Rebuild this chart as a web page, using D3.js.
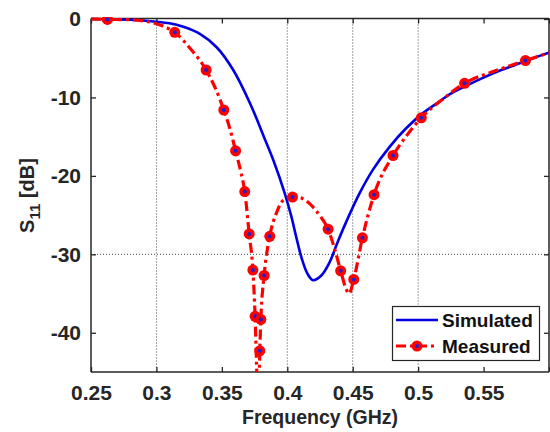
<!DOCTYPE html>
<html><head><meta charset="utf-8">
<script src="https://cdn.jsdelivr.net/npm/d3@7"></script>
<style>body{margin:0;background:#fff;}svg{display:block;font-family:Arial,"Liberation Sans",sans-serif;}</style>
</head><body><svg id="c" width="550" height="432"></svg>
<script>
// ---- data ----
const xTicks = [0.25, 0.3, 0.35, 0.4, 0.45, 0.5, 0.55, 0.6];
const xTickLabels = ["0.25", "0.3", "0.35", "0.4", "0.45", "0.5", "0.55", ""];
const yTicks = [0, -10, -20, -30, -40];
const yTickLabels = ["0", "-10", "-20", "-30", "-40"];
const xGrid = [0.3, 0.4, 0.45, 0.5];
const yGrid = [-30];

const simFreq = [0.25, 0.28, 0.30, 0.31, 0.3205, 0.3332, 0.346, 0.3587, 0.3714, 0.3828, 0.390, 0.398, 0.403, 0.407, 0.411, 0.4155, 0.4197, 0.426, 0.4324, 0.4376, 0.4452, 0.4553, 0.4655, 0.4782, 0.491, 0.5037, 0.5164, 0.524, 0.537, 0.5495, 0.562, 0.575, 0.587, 0.600];
const simDb   = [0, -0.1, -0.35, -0.55, -1.0, -1.9, -3.6, -6.5, -10.7, -15.3, -18.3, -22.2, -25.1, -27.9, -30.5, -32.5, -33.3, -32.7, -31.0, -28.8, -25.8, -22.2, -19.2, -16.3, -13.9, -12.0, -10.5, -9.6, -8.5, -7.5, -6.6, -5.8, -5.05, -4.3];

const measFreq = [0.25, 0.2625, 0.28, 0.295, 0.305, 0.314, 0.326, 0.338, 0.3455, 0.3515, 0.3565, 0.3605, 0.3645, 0.3675, 0.3709, 0.3737, 0.3754, 0.3765, 0.3772, 0.3782, 0.379, 0.3798, 0.3823, 0.3866, 0.392, 0.397, 0.404, 0.410, 0.4175, 0.425, 0.4312, 0.436, 0.4408, 0.4445, 0.4472, 0.4508, 0.4574, 0.4663, 0.4808, 0.4915, 0.5024, 0.519, 0.5355, 0.559, 0.582, 0.600];
const measDb   = [0, -0.05, -0.1, -0.4, -0.9, -1.7, -3.8, -6.5, -9.0, -11.6, -14.2, -16.8, -19.5, -22.0, -27.4, -32.0, -37.9, -44, -48, -48, -42.3, -38.3, -32.7, -27.7, -24.6, -23.1, -22.7, -22.8, -23.6, -25.1, -26.8, -29.2, -32.1, -34.2, -35.0, -33.2, -27.9, -22.4, -17.4, -14.8, -12.6, -10.2, -8.2, -6.6, -5.3, -4.3];

const markFreq = [0.2625, 0.314, 0.338, 0.3515, 0.3605, 0.3675, 0.3709, 0.3737, 0.3754, 0.379, 0.3798, 0.3823, 0.3866, 0.404, 0.4312, 0.4408, 0.4508, 0.4574, 0.4663, 0.4808, 0.5024, 0.5355, 0.582];
const markDb   = [-0.05, -1.7, -6.5, -11.6, -16.8, -22.0, -27.4, -32.0, -37.9, -42.3, -38.3, -32.7, -27.7, -22.7, -26.8, -32.1, -33.2, -27.9, -22.4, -17.4, -12.6, -8.2, -5.3];

const seriesNames = ["Simulated", "Measured"];

// ---- layout ----
const L = 91, R = 549, T = 19, B = 372;
const ink = "#262626";
const blue = "#0000e0", red = "#ff0000", dotBlue = "#2020d0";
const svg = d3.select("#c");
const x = d3.scaleLinear().domain([0.25, 0.6]).range([L, R]);
const y = d3.scaleLinear().domain([-45, 0]).range([B, T]);

svg.append("defs").append("clipPath").attr("id", "clip")
  .append("rect").attr("x", L).attr("y", T - 2).attr("width", R - L).attr("height", B - T + 2);

// grid
const g = svg.append("g");
g.selectAll(".vg").data(xGrid).enter().append("line")
  .attr("x1", d => x(d)).attr("x2", d => x(d)).attr("y1", T - 0.5).attr("y2", B)
  .attr("stroke", "#444").attr("stroke-width", 1).attr("stroke-dasharray", "1,2");
g.selectAll(".hg").data(yGrid).enter().append("line")
  .attr("y1", d => y(d)).attr("y2", d => y(d)).attr("x1", L).attr("x2", R)
  .attr("stroke", "#444").attr("stroke-width", 1).attr("stroke-dasharray", "1,2");

// axes
const ax = svg.append("g").attr("transform", `translate(0,${B})`)
  .call(d3.axisBottom(x).tickValues(xTicks).tickSize(-5).tickPadding(13).tickFormat((d, i) => xTickLabels[i]));
const axT = svg.append("g").attr("transform", `translate(0,${T - 0.5})`)
  .call(d3.axisTop(x).tickValues(xTicks).tickSize(-5).tickFormat(""));
const ay = svg.append("g").attr("transform", `translate(${L},0)`)
  .call(d3.axisLeft(y).tickValues(yTicks).tickSize(-5).tickPadding(10).tickFormat((d, i) => yTickLabels[i]));
const ayR = svg.append("g").attr("transform", `translate(${R},0)`)
  .call(d3.axisRight(y).tickValues(yTicks).tickSize(-5).tickFormat(""));
[ax, axT, ay, ayR].forEach(a => {
  a.select(".domain").attr("stroke", ink).attr("stroke-width", 1.5);
  a.selectAll(".tick line").attr("stroke", ink).attr("stroke-width", 1.3);
  a.selectAll(".tick text").attr("fill", ink).style("font-size", "21px").style("font-weight", "bold")
   .style("font-family", "Arial, 'Liberation Sans', sans-serif");
});
ay.select(".domain").attr("d", `M0,${T - 0.5}V${B}`);
ayR.select(".domain").attr("d", `M0,${T - 0.5}V${B}`);
ax.select(".domain").attr("d", `M${L},0H${R}`);
axT.select(".domain").attr("d", `M${L},0H${R}`);

// lines
const plot = svg.append("g").attr("clip-path", "url(#clip)");
const lineSim = d3.line().x(d => x(d[0])).y(d => y(d[1])).curve(d3.curveCatmullRom.alpha(0.5));
const lineMeas = d3.line().x(d => x(d[0])).y(d => y(d[1])).curve(d3.curveMonotoneX);
plot.append("path").datum(simFreq.map((f, i) => [f, simDb[i]]))
  .attr("d", lineSim).attr("fill", "none").attr("stroke", blue).attr("stroke-width", 2.6);
plot.append("path").datum(measFreq.map((f, i) => [f, measDb[i]]))
  .attr("d", lineMeas).attr("fill", "none").attr("stroke", red).attr("stroke-width", 3.2)
  .attr("stroke-dasharray", "10,4,3,4");
const mk = plot.selectAll(".mk").data(markFreq.map((f, i) => [f, markDb[i]])).enter().append("g")
  .attr("transform", d => `translate(${x(d[0])},${y(d[1])})`);
mk.append("circle").attr("r", 5.5).attr("fill", red);
mk.append("circle").attr("r", 2).attr("fill", dotBlue);

// labels
svg.append("text").attr("x", 320).attr("y", 424).attr("text-anchor", "middle")
  .attr("fill", ink).style("font-size", "19.5px").style("font-weight", "bold").text("Frequency (GHz)");
const yl = svg.append("text").attr("transform", `translate(34,${(T + B) / 2}) rotate(-90)`)
  .attr("text-anchor", "middle").attr("fill", ink).style("font-size", "20px").style("font-weight", "bold");
yl.append("tspan").text("S");
yl.append("tspan").attr("dy", 6).style("font-size", "15px").text("11");
yl.append("tspan").attr("dy", -6).text(" [dB]");

// legend
const lg = svg.append("g");
lg.append("rect").attr("x", 392.5).attr("y", 306.5).attr("width", 147).attr("height", 54)
  .attr("fill", "#fff").attr("stroke", ink).attr("stroke-width", 1.2);
lg.append("line").attr("x1", 396).attr("x2", 438).attr("y1", 320).attr("y2", 320)
  .attr("stroke", blue).attr("stroke-width", 2.6);
lg.append("line").attr("x1", 396).attr("x2", 438).attr("y1", 346).attr("y2", 346)
  .attr("stroke", red).attr("stroke-width", 3.2).attr("stroke-dasharray", "10,4,3,4");
lg.append("circle").attr("cx", 417).attr("cy", 346).attr("r", 5.5).attr("fill", red);
lg.append("circle").attr("cx", 417).attr("cy", 346).attr("r", 2).attr("fill", dotBlue);
lg.selectAll(".lt").data(seriesNames).enter().append("text")
  .attr("x", 442).attr("y", (d, i) => 327 + i * 26).attr("fill", "#111")
  .style("font-size", "19px").style("font-weight", "bold").text(d => d);
</script></body></html>
